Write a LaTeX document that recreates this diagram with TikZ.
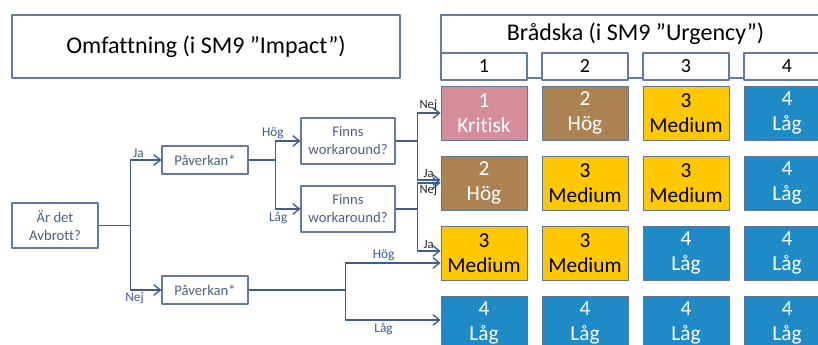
\documentclass[tikz,border=0pt]{standalone}
\usepackage{fontspec}
\setmainfont{Carlito}[Ligatures=NoCommon]
\usetikzlibrary{arrows.meta,calc}
\definecolor{flowblue}{RGB}{62,92,140}
\definecolor{boxline}{RGB}{100,122,160}
\definecolor{boxtext}{RGB}{78,96,128}
\definecolor{cellline}{RGB}{96,116,150}
\definecolor{kritisk}{RGB}{213,140,155}
\definecolor{hog}{RGB}{173,130,82}
\definecolor{medium}{RGB}{255,200,0}
\definecolor{lag}{RGB}{30,139,199}
\tikzset{
	plainbox/.style={draw=boxline, line width=0.8pt, fill=white, inner sep=1pt, align=center},
	qbox/.style={plainbox, text=boxtext, font=\fontsize{11}{13.5}\selectfont},
	numbox/.style={plainbox, minimum width=64.5pt, minimum height=20.25pt, font=\fontsize{15}{17}\selectfont},
	cell/.style={draw=cellline, line width=0.6pt, inner sep=1pt, align=center, minimum width=64.5pt, minimum height=40.5pt, font=\fontsize{16}{19}\selectfont},
	lvl1/.style={fill=kritisk, text=white},
	lvl2/.style={fill=hog, text=white},
	lvl3/.style={fill=medium, text=black},
	lvl4/.style={fill=lag, text=white},
	wire/.style={draw=flowblue, line width=1pt},
	flow/.style={wire, -{Straight Barb[length=5pt,width=8pt]}},
	lbl/.style={text=flowblue, font=\fontsize{10}{12}\selectfont, inner sep=1.5pt},
	lblk/.style={text=black!85, font=\fontsize{9.5}{11}\selectfont, inner sep=1pt}
}
\begin{document}
\begin{tikzpicture}[x=0.75pt, y=-0.75pt, line join=round]
	\useasboundingbox (0,0) rectangle (818,344);
	\clip (0,0) rectangle (818,344);
	\node[plainbox, minimum width=291pt, minimum height=47.25pt, font=\fontsize{18}{22}\selectfont] (omf) at (206,46.5) {Omfattning (i SM9 ”Impact”)};
	\node[plainbox, minimum width=291.75pt, minimum height=47.25pt] (brad) at (635.5,46.5) {};
	\node[font=\fontsize{18}{22}\selectfont] (bradtxt) at (635.5,34) {Brådska (i SM9 ”Urgency”)};
	\foreach \c in {1,...,4}
		\node[numbox] (n\c) at ({484+101*(\c-1)},66.5) {\c};
	\foreach \r/\c/\l/\t in {1/1/1/Kritisk, 1/2/2/Hög, 1/3/3/Medium, 1/4/4/Låg,
			2/1/2/Hög, 2/2/3/Medium, 2/3/3/Medium, 2/4/4/Låg,
			3/1/3/Medium, 3/2/3/Medium, 3/3/4/Låg, 3/4/4/Låg,
			4/1/4/Låg, 4/2/4/Låg, 4/3/4/Låg, 4/4/4/Låg}
		\node[cell, lvl\l] (c\r\c) at ({484+101*(\c-1)},{113+70*(\r-1)}) {\l\\\t};
	\node[qbox, minimum width=64.5pt, minimum height=33.75pt] (avb) at (55,225.5) {Är det\\Avbrott?};
	\node[qbox, minimum width=64.5pt, minimum height=21pt] (pv1) at (205,160) {Påverkan*};
	\node[qbox, minimum width=64.5pt, minimum height=21pt] (pv2) at (205,290) {Påverkan*};
	\node[qbox, minimum width=70.5pt, minimum height=34.5pt] (fw1) at (348,141) {Finns\\workaround?};
	\node[qbox, minimum width=70.5pt, minimum height=34.5pt] (fw2) at (348,209) {Finns\\workaround?};
	\coordinate (s1) at ($(avb.east)+(32,0)$);
	\coordinate (s2) at ($(pv1.east)+(27,0)$);
	\coordinate (s3) at ($(fw1.east)+(22,0)$);
	\coordinate (s4) at ($(fw2.east)+(22,0)$);
	\coordinate (s5) at ($(pv2.east)+(97,0)$);
	\draw[wire] (avb.east) -- (s1);
	\draw[flow] (s1) |- node[lbl, pos=0.5, anchor=south west]{Ja} (pv1.west);
	\draw[flow] (s1) |- node[lbl, pos=0.5, anchor=north, xshift=3pt]{Nej} (pv2.west);
	\draw[wire] (pv1.east) -- (s2);
	\draw[flow] (s2) |- node[lbl, pos=0.5, anchor=south, xshift=-2pt]{Hög} (fw1.west);
	\draw[flow] (s2) |- node[lbl, pos=0.5, anchor=north, xshift=2pt]{Låg} (fw2.west);
	\draw[wire] (fw1.east) -- (s3);
	\draw[flow] (s3) |- node[lblk, pos=0.5, anchor=south west]{Nej} (c11.west);
	\draw[flow] (s3) |- node[lblk, pos=0.5, anchor=south west, xshift=3pt]{Ja} ($(c21.west)+(0,-3)$);
	\draw[wire] (fw2.east) -- (s4);
	\draw[flow] (s4) |- node[lblk, pos=0.5, anchor=north west]{Nej} (c21.west);
	\draw[flow] (s4) |- node[lblk, pos=0.5, anchor=south west, xshift=3pt]{Ja} ($(c31.west)+(0,-2)$);
	\draw[wire] (pv2.east) -- (s5);
	\draw[flow] (s5) |- node[lbl, pos=0.7, above]{Hög} ($(c31.west)+(0,10)$);
	\draw[flow] (s5) |- node[lbl, pos=0.7, below]{Låg} ($(c41.west)+(0,-3)$);
\end{tikzpicture}
\end{document}
